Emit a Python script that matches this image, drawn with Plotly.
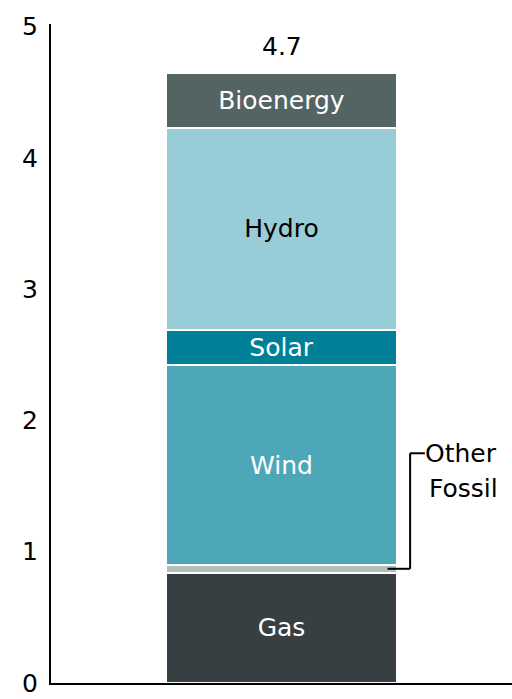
import plotly.graph_objects as go

# Generation mix, stacked bottom to top
sources = ["Gas", "Other Fossil", "Wind", "Solar", "Hydro", "Bioenergy"]
values = [0.84, 0.06, 1.52, 0.27, 1.54, 0.42]
colors = ["#373f42", "#b2bfbe", "#4ea7b9", "#007f97", "#98ccd6", "#546463"]
text_colors = ["white", "white", "white", "white", "black", "white"]
show_label = [True, False, True, True, True, True]

y_ticks = [0, 1, 2, 3, 4, 5]
FONT = "DejaVu Sans"
SIZE = 25

fig = go.Figure()
for name, val, col, tcol, lab in zip(sources, values, colors, text_colors, show_label):
    fig.add_trace(go.Bar(
        x=[0], y=[val], name=name,
        marker=dict(color=col, line=dict(color="white", width=2)),
        width=0.5,
        text=[name] if lab else None,
        textposition="inside" if lab else "none",
        insidetextanchor="middle",
        textangle=0,
        textfont=dict(family=FONT, size=SIZE, color=tcol),
        hoverinfo="skip",
    ))

total = sum(values)
fig.add_annotation(x=0, y=total, text=f"{total:.1f}", showarrow=False,
                   yanchor="bottom", yshift=10,
                   font=dict(family=FONT, size=SIZE, color="black"))

# Leader line for the thin "Other Fossil" segment
mid_other = values[0] + values[1] / 2
label_y = 1.75
line_style = dict(color="black", width=2)
fig.add_shape(type="line", xref="x", yref="y", x0=0.23, x1=0.279,
              y0=mid_other, y1=mid_other, line=line_style)
fig.add_shape(type="line", xref="x", yref="y", x0=0.279, x1=0.279,
              y0=mid_other, y1=label_y, line=line_style)
fig.add_shape(type="line", xref="x", yref="y", x0=0.279, x1=0.311,
              y0=label_y, y1=label_y, line=line_style)
fig.add_annotation(x=0.311, y=label_y, text="Other", showarrow=False,
                   xanchor="left", yanchor="middle", xshift=-2,
                   font=dict(family=FONT, size=SIZE, color="black"))
fig.add_annotation(x=0.474, y=1.484, text="Fossil", showarrow=False,
                   xanchor="right", yanchor="middle",
                   font=dict(family=FONT, size=SIZE, color="black"))

fig.update_layout(
    barmode="stack",
    width=512, height=699,
    margin=dict(l=51, r=0, t=24, b=16),
    paper_bgcolor="white", plot_bgcolor="white",
    showlegend=False,
    uniformtext=dict(minsize=SIZE, mode="show"),
    xaxis=dict(range=[-0.5, 0.5], showticklabels=False, showgrid=False,
               zeroline=False, showline=True, linecolor="black", linewidth=2,
               ticks=""),
    yaxis=dict(range=[0, 5.02], tickvals=y_ticks, showgrid=False,
               zeroline=False, showline=True, linecolor="black", linewidth=2,
               ticks="", ticklabelstandoff=6,
               tickfont=dict(family=FONT, size=SIZE, color="black")),
)

fig.write_html("out.html")
